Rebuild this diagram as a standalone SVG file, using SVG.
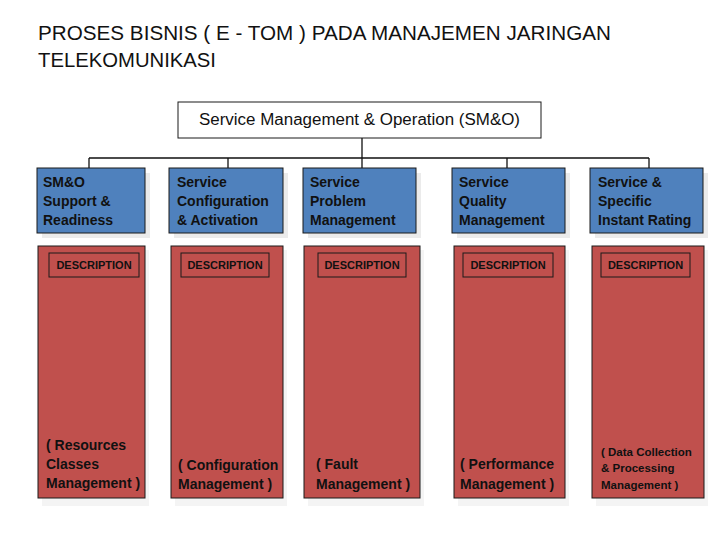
<svg xmlns="http://www.w3.org/2000/svg" width="720" height="540" viewBox="0 0 720 540">
<style>
.title{font-family:"Liberation Sans",Arial,sans-serif;font-size:20px;fill:#111}
.top{font-family:"Liberation Sans",Arial,sans-serif;font-size:16px;fill:#111}
.blue{fill:#4F81BD;stroke:#1a1a1a;stroke-width:1}
.red{fill:#C0504D;stroke:#1a1a1a;stroke-width:1}
.desc{fill:none;stroke:#1a1a1a;stroke-width:1}
.sh{fill:#ebebeb}
.sh2{fill:#f4f4f4}
.lbl{font-family:"Liberation Sans",Arial,sans-serif;font-size:14px;font-weight:bold;fill:#111}
.dt{font-family:"Liberation Sans",Arial,sans-serif;font-size:11px;font-weight:bold;fill:#111}
.sm{font-size:11.5px}
.conn{fill:none;stroke:#111;stroke-width:1.3}
</style>
<rect width="720" height="540" fill="#fff"/>
<g id="title">
<text class="title" x="38" y="40" textLength="573" lengthAdjust="spacingAndGlyphs">PROSES BISNIS  ( E - TOM ) PADA MANAJEMEN JARINGAN</text>
<text class="title" x="38" y="67" textLength="178" lengthAdjust="spacingAndGlyphs">TELEKOMUNIKASI</text>
</g>
<g id="connectors">
<path class="conn" d="M362 138 V158 M89 158 H649 M89 158 V168 M228 158 V168 M362 158 V168 M507 158 V168 M649 158 V168"/>
</g>
<g id="root">
<rect x="178" y="102" width="363" height="36" fill="#fff" stroke="#1a1a1a" stroke-width="1"/>
<text class="top" x="199" y="125" textLength="321" lengthAdjust="spacingAndGlyphs">Service Management &amp; Operation (SM&amp;O)</text>
</g>
<g id="n1">
<rect class="sh" x="42" y="173" width="108" height="65"/>
<rect class="blue" x="37" y="168" width="108" height="65"/>
<text class="lbl" x="43" y="187">SM&amp;O</text>
<text class="lbl" x="43" y="206">Support &amp;</text>
<text class="lbl" x="43" y="225">Readiness</text>
</g>
<g id="n2">
<rect class="sh" x="174" y="173" width="114" height="65"/>
<rect class="blue" x="169" y="168" width="114" height="65"/>
<text class="lbl" x="177" y="187">Service</text>
<text class="lbl" x="177" y="206">Configuration</text>
<text class="lbl" x="177" y="225">&amp; Activation</text>
</g>
<g id="n3">
<rect class="sh" x="308" y="173" width="113" height="65"/>
<rect class="blue" x="303" y="168" width="113" height="65"/>
<text class="lbl" x="310" y="187">Service</text>
<text class="lbl" x="310" y="206">Problem</text>
<text class="lbl" x="310" y="225">Management</text>
</g>
<g id="n4">
<rect class="sh" x="457" y="173" width="113" height="65"/>
<rect class="blue" x="452" y="168" width="113" height="65"/>
<text class="lbl" x="459" y="187">Service</text>
<text class="lbl" x="459" y="206">Quality</text>
<text class="lbl" x="459" y="225">Management</text>
</g>
<g id="n5">
<rect class="sh" x="595" y="173" width="113" height="65"/>
<rect class="blue" x="590" y="168" width="113" height="65"/>
<text class="lbl" x="598" y="187">Service &amp;</text>
<text class="lbl" x="598" y="206">Specific</text>
<text class="lbl" x="598" y="225">Instant Rating</text>
</g>
<g id="d1">
<rect class="sh2" x="42" y="250" width="107" height="256"/>
<rect class="red" x="38" y="246" width="107" height="252"/>
<rect class="desc" x="49" y="253" width="90" height="24"/>
<text class="dt" x="94" y="269" text-anchor="middle">DESCRIPTION</text>
<text class="lbl" x="46" y="450">( Resources</text>
<text class="lbl" x="46" y="469">Classes</text>
<text class="lbl" x="46" y="488">Management )</text>
</g>
<g id="d2">
<rect class="sh2" x="175" y="250" width="112" height="256"/>
<rect class="red" x="171" y="246" width="112" height="252"/>
<rect class="desc" x="181" y="253" width="88" height="24"/>
<text class="dt" x="225" y="269" text-anchor="middle">DESCRIPTION</text>
<text class="lbl" x="178" y="470">( Configuration</text>
<text class="lbl" x="178" y="489">Management )</text>
</g>
<g id="d3">
<rect class="sh2" x="308" y="250" width="116" height="256"/>
<rect class="red" x="304" y="246" width="116" height="252"/>
<rect class="desc" x="318" y="253" width="88" height="24"/>
<text class="dt" x="362" y="269" text-anchor="middle">DESCRIPTION</text>
<text class="lbl" x="316" y="469">( Fault</text>
<text class="lbl" x="316" y="489">Management )</text>
</g>
<g id="d4">
<rect class="sh2" x="458" y="250" width="111" height="256"/>
<rect class="red" x="454" y="246" width="111" height="252"/>
<rect class="desc" x="463" y="253" width="90" height="24"/>
<text class="dt" x="508" y="269" text-anchor="middle">DESCRIPTION</text>
<text class="lbl" x="460" y="469">( Performance</text>
<text class="lbl" x="460" y="489">Management )</text>
</g>
<g id="d5">
<rect class="sh2" x="596" y="250" width="112" height="256"/>
<rect class="red" x="592" y="246" width="112" height="252"/>
<rect class="desc" x="601" y="253" width="89" height="24"/>
<text class="dt" x="645.5" y="269" text-anchor="middle">DESCRIPTION</text>
<text class="lbl sm" x="601" y="456">( Data Collection</text>
<text class="lbl sm" x="601" y="472">&amp; Processing</text>
<text class="lbl sm" x="601" y="489">Management )</text>
</g>
</svg>
